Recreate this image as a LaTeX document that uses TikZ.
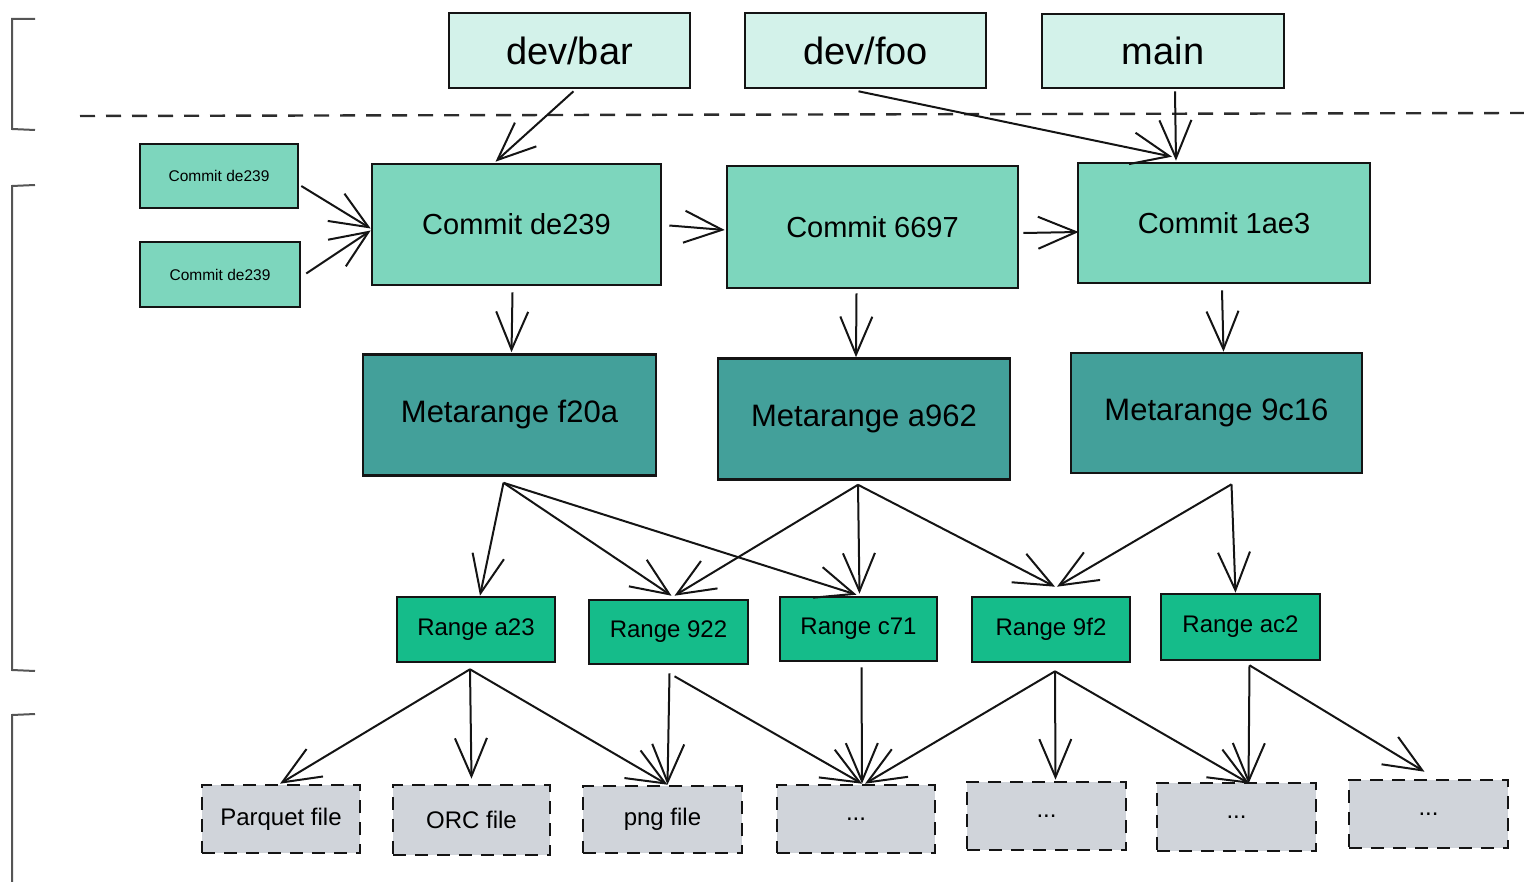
\documentclass[tikz,border=0pt]{standalone}
\usepackage{fontspec}
\setmainfont{Liberation Sans}
\usetikzlibrary{arrows.meta,calc}
\definecolor{branchc}{HTML}{D3F2EA}
\definecolor{commitc}{HTML}{7DD6BD}
\definecolor{metac}{HTML}{43A09A}
\definecolor{rangec}{HTML}{15BC8A}
\definecolor{filec}{HTML}{D0D4DA}
\definecolor{edgec}{HTML}{141414}
\definecolor{bracketc}{HTML}{555555}
\tikzset{
  box/.style={draw=edgec, line width=2.6pt, inner sep=0pt, text=black},
  branchbox/.style={box, fill=branchc, minimum width=241pt, minimum height=75pt, font=\fontsize{38}{44}\selectfont},
  smallcommit/.style={box, fill=commitc, minimum width=159pt, minimum height=64pt, font=\fontsize{15.5}{18}\selectfont},
  commitbox/.style={box, fill=commitc, minimum width=290pt, minimum height=121pt, font=\fontsize{29}{34}\selectfont},
  metabox/.style={box, fill=metac, minimum width=292pt, minimum height=121pt, font=\fontsize{31}{36}\selectfont},
  rangebox/.style={box, fill=rangec, minimum width=158pt, minimum height=65pt, font=\fontsize{24}{28}\selectfont},
  filebox/.style={box, fill=filec, dash pattern=on 13pt off 9pt, minimum width=158pt, minimum height=68pt, font=\fontsize{24}{28}\selectfont},
  arr/.style={draw=edgec, line width=2pt, -{Straight Barb[length=38pt,width=32pt,line width=2pt]}},
  bracket/.style={draw=bracketc, line width=2pt},
}
\begin{document}
\begin{tikzpicture}[x=1pt,y=-1pt]
\useasboundingbox (0,0) rectangle (1524,882);
% brackets
\draw[bracket] (35,19) -- (12,19) -- (12,129) -- (35,130);
\draw[bracket] (35,185) -- (12,186) -- (12,670) -- (35,671);
\draw[bracket] (35,714) -- (12,715) -- (12,882);
% dashed separator
\draw[draw=edgec!90, line width=2.4pt, dash pattern=on 15pt off 11pt] (80,116) -- (1524,113);
% branches
\node[branchbox] (devbar) at (569.5,50.5) {dev/bar};
\node[branchbox] (devfoo) at (865.5,50.5) {dev/foo};
\node[branchbox, minimum width=242pt, minimum height=74pt] (main) at (1163,51) {main};
% small commits
\node[smallcommit, minimum width=158pt] (sc1) at (219,176) {Commit de239};
\node[smallcommit, minimum width=160pt, minimum height=65pt] (sc2) at (220,274.5) {Commit de239};
% commits
\node[commitbox, minimum width=289pt] (c1) at (516.5,224.5) {Commit de239};
\node[commitbox, minimum width=291pt, minimum height=122pt] (c2) at (872.5,227) {Commit 6697};
\node[commitbox, minimum width=292pt, minimum height=120pt] (c3) at (1224,223) {Commit 1ae3};
% metaranges
\node[metabox, minimum width=293pt] (m1) at (509.5,415) {Metarange f20a};
\node[metabox] (m2) at (864,419) {Metarange a962};
\node[metabox, minimum width=291pt, minimum height=120pt] (m3) at (1216.5,413) {Metarange 9c16};
% ranges
\node[rangebox] (r1) at (476,629.5) {Range a23};
\node[rangebox, minimum width=159pt, minimum height=64pt] (r2) at (668.5,632) {Range 922};
\node[rangebox, minimum width=157pt, minimum height=64pt] (r3) at (858.5,629) {Range c71};
\node[rangebox] (r4) at (1051,629.5) {Range 9f2};
\node[rangebox, minimum width=159pt, minimum height=66pt] (r5) at (1240.5,627) {Range ac2};
% files
\node[filebox] (f1) at (281,819) {Parquet file};
\node[filebox, minimum width=157pt, minimum height=70pt] (f2) at (471.5,820) {ORC file};
\node[filebox, minimum width=159pt, minimum height=67pt] (f3) at (662.5,819.5) {png file};
\node[filebox] (f4) at (856,819) {...};
\node[filebox, minimum width=159pt] (f5) at (1046.5,816) {...};
\node[filebox, minimum width=159pt] (f6) at (1236.5,817) {...};
\node[filebox, minimum width=159pt] (f7) at (1428.5,814) {...};
% branch -> commit
\draw[arr] ($(devbar.south)+(4,2)$) -- ($(c1.north)+(-21,-1)$);
\draw[arr] ($(devfoo.south)+(-7,2)$) -- ($(c3.north)+(-52,-5)$);
\draw[arr] ($(main.south)+(12,2)$) -- ($(c3.north)+(-48,-1)$);
% small commits -> commit
\draw[arr] ($(sc1.east)+(2,10)$) -- ($(c1.west)+(0,4)$);
\draw[arr] ($(sc2.east)+(5,-1)$) -- ($(c1.west)+(0,6)$);
% commit chain
\draw[arr] ($(c1.east)+(7,1)$) -- ($(c2.west)+(-1,3)$);
\draw[arr] ($(c2.east)+(4,6)$) -- ($(c3.west)+(2,9)$);
% commit -> metarange
\draw[arr] ($(c1.south)+(-4,6)$) -- ($(m1.north)+(2,-1)$);
\draw[arr] ($(c2.south)+(-16,4)$) -- ($(m2.north)+(-8,0)$);
\draw[arr] ($(c3.south)+(-2,6)$) -- ($(m3.north)+(7,0)$);
% metarange -> range
\draw[arr] ($(m1.south)+(-6,6)$) -- ($(r1.north)+(4,0)$);
\draw[arr] ($(m1.south)+(-6,6)$) -- ($(r2.north)+(3,-3)$);
\draw[arr] ($(m1.south)+(-6,6)$) -- ($(r3.north)+(-2,-1)$);
\draw[arr] ($(m2.south)+(-6,4)$) -- ($(r2.north)+(6,-3)$);
\draw[arr] ($(m2.south)+(-6,4)$) -- ($(r3.north)+(1,-2)$);
\draw[arr] ($(m2.south)+(-6,4)$) -- ($(r4.north)+(4,-9)$);
\draw[arr] ($(m3.south)+(15,10)$) -- ($(r4.north)+(6,-9)$);
\draw[arr] ($(m3.south)+(15,10)$) -- ($(r5.north)+(-5,0)$);
% range -> file
\draw[arr] ($(r1.south)+(-6,6)$) -- ($(f1.north)+(-1,0)$);
\draw[arr] ($(r1.south)+(-6,6)$) -- ($(f2.north)+(0,-5)$);
\draw[arr] ($(r1.south)+(-6,6)$) -- ($(f3.north)+(5,0)$);
\draw[arr] ($(r2.south)+(1,8)$) -- ($(f3.north)+(5,0)$);
\draw[arr] ($(r2.south)+(6,11)$) -- ($(f4.north)+(6,0)$);
\draw[arr] ($(r3.south)+(3,5)$) -- ($(f4.north)+(6,0)$);
\draw[arr] ($(r4.south)+(4,8)$) -- ($(f4.north)+(9,0)$);
\draw[arr] ($(r4.south)+(4,8)$) -- ($(f5.north)+(9,-1)$);
\draw[arr] ($(r4.south)+(4,8)$) -- ($(f6.north)+(13,2)$);
\draw[arr] ($(r5.south)+(9,4)$) -- ($(f6.north)+(12,2)$);
\draw[arr] ($(r5.south)+(9,4)$) -- ($(f7.north)+(-4,-7)$);
\end{tikzpicture}
\end{document}
